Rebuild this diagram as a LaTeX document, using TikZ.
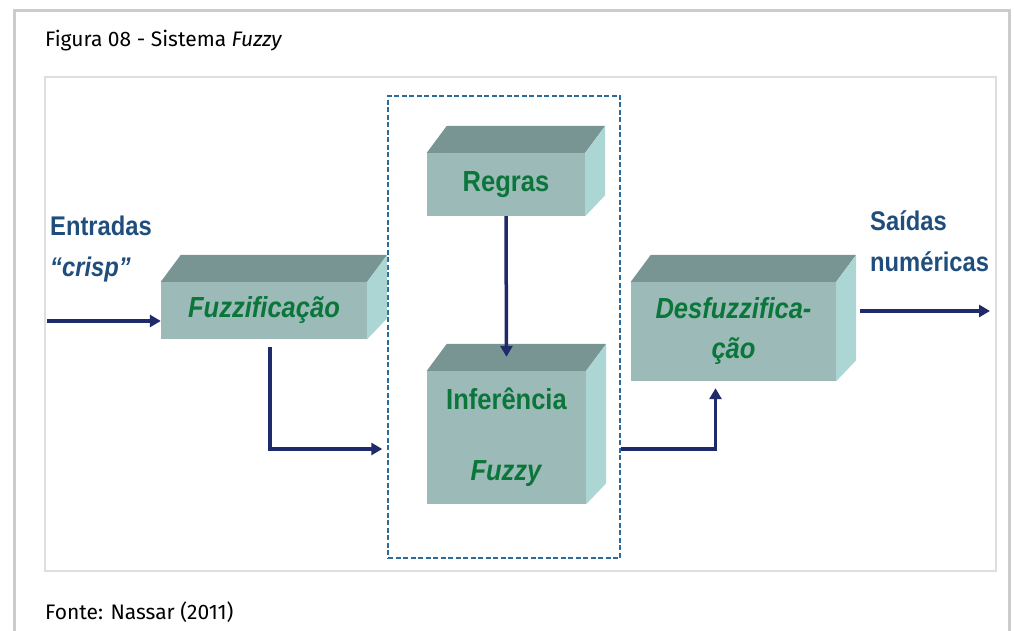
\documentclass[tikz,border=0pt]{standalone}
\usepackage{fontspec}
\setmainfont{Fira Sans}
\newfontfamily\diagfont{Liberation Sans}[FakeStretch=0.88]
\usetikzlibrary{positioning,arrows.meta}

\definecolor{framegray}{RGB}{204,204,204}
\definecolor{innergray}{RGB}{222,222,222}
\definecolor{frontc}{RGB}{155,186,184}
\definecolor{topc}{RGB}{121,149,147}
\definecolor{sidec}{RGB}{171,214,211}
\definecolor{textgreen}{RGB}{10,118,58}
\definecolor{labelblue}{RGB}{31,78,125}
\definecolor{arrowc}{RGB}{30,42,105}
\definecolor{dashblue}{RGB}{44,106,154}

\begin{document}
\begin{tikzpicture}[x=1pt, y=1pt,
    block/.style = {fill=frontc, text=textgreen, inner sep=0pt, align=center,
      font=\diagfont\bfseries\fontsize{29}{30}\selectfont},
    sidetext/.style = {text=labelblue, align=left, inner sep=0pt,
      font=\diagfont\bfseries\fontsize{27}{41}\selectfont},
    caption/.style = {anchor=base west, inner sep=0pt,
      font=\fontsize{21}{24}\selectfont},
    arr/.style = {draw=arrowc, line width=3.5pt,
      -{Triangle[length=11pt,width=12pt]}}]
    \useasboundingbox (0,0) rectangle (1014,630);
    % frames
    \draw[framegray, line width=3pt] (14,-5) -- (14,619) -- (1009,619) -- (1009,-5);
    \draw[innergray, line width=2.5pt] (45,59) rectangle (996,553);
    \node[caption] (title) at (45,583) {Figura 08 - Sistema \textit{Fuzzy}};
    \node[caption] (source) at (45,11) {Fonte: Nassar (2011)};

    % dashed frame round the core
    \node[draw=dashblue, dashed, line width=1.5pt, dash pattern=on 5pt off 2.5pt,
      minimum width=232, minimum height=462, inner sep=0pt] (core) at (504,303) {};

    % blocks
    \node[block, minimum width=206, minimum height=57] (fuzz) at (264,319.5)
      {\textit{Fuzzificação}};
    \node[block, minimum width=158, minimum height=63] (regras) at (506,445.5)
      {Regras};
    \node[block, minimum width=159, minimum height=133,
      font=\diagfont\bfseries\fontsize{29}{71}\selectfont] (infer) at (506.5,192.5)
      {Inferência\\\textit{Fuzzy}};
    \node[block, minimum width=205, minimum height=99,
      font=\diagfont\bfseries\fontsize{29}{40}\selectfont] (desf) at (733.5,298.5)
      {\textit{Desfuzzifica-}\\\textit{ção}};
    \foreach \b in {fuzz,regras,infer,desf} {
      \fill[topc] (\b.north west) -- ++(20,27) -- ([shift={(20,27)}]\b.north east)
        -- (\b.north east) -- cycle;
      \fill[sidec] (\b.north east) -- ++(20,27) -- ([shift={(20,21)}]\b.south east)
        -- (\b.south east) -- cycle;
    }

    % side labels
    \node[sidetext, anchor=west] (inlabel) at (50,381) {Entradas\\\textit{“crisp”}};
    \node[sidetext, anchor=west] (outlabel) at (870,389) {Saídas\\numéricas};

    % connectors
    \coordinate (in) at (47,309);
    \coordinate (out) at (990,319);
    \coordinate (low) at (0,181);
    \draw[arr] (in) -- (in -| fuzz.west);
    \draw[arr] ([xshift=6pt,yshift=-8pt]fuzz.south) |- ([xshift=-5pt]core.west |- low);
    \draw[arr] (regras.south) -- ([yshift=14pt]infer.north);
    \draw[arr] (core.east |- low) -| ([xshift=-18pt,yshift=-7pt]desf.south);
    \draw[arr] (out -| desf.east) ++(24,0) -- (out);
\end{tikzpicture}
\end{document}
